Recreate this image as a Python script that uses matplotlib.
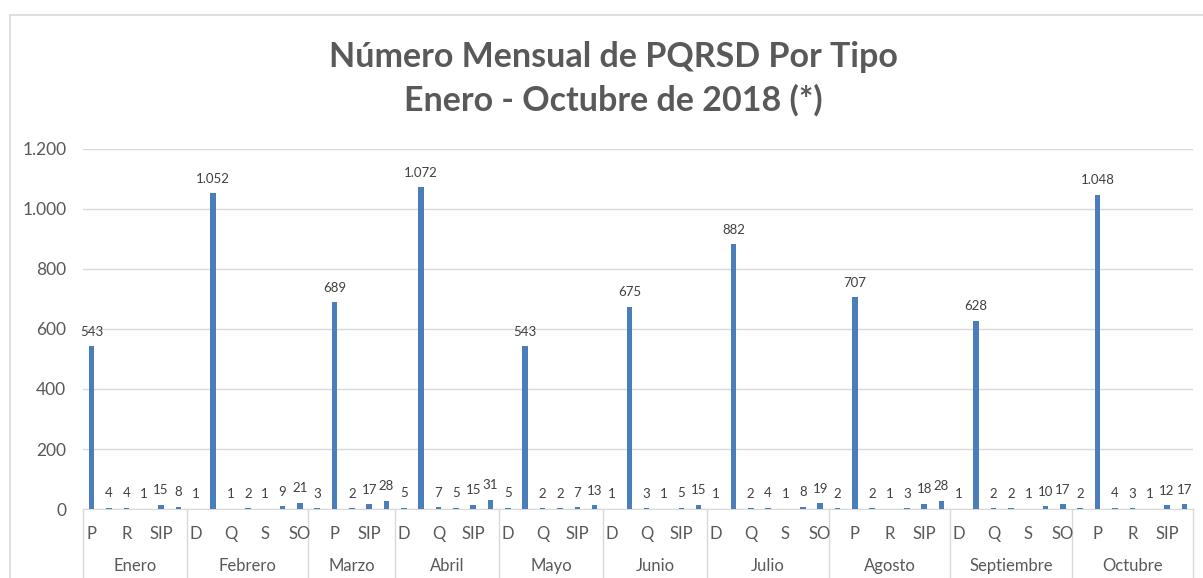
import numpy as np
import matplotlib.pyplot as plt
from matplotlib.lines import Line2D
from matplotlib.ticker import FuncFormatter

plt.rcParams['font.family'] = ['Lato', 'DejaVu Sans']

# data
meses = ['Enero', 'Febrero', 'Marzo', 'Abril', 'Mayo', 'Junio',
         'Julio', 'Agosto', 'Septiembre', 'Octubre']
tipos = [
    ['P', 'Q', 'R', 'S', 'SIP', 'SO'],
    ['D', 'P', 'Q', 'R', 'S', 'SIP', 'SO'],
    ['D', 'P', 'Q', 'SIP', 'SO'],
    ['D', 'P', 'Q', 'R', 'SIP', 'SO'],
    ['D', 'P', 'Q', 'R', 'SIP', 'SO'],
    ['D', 'P', 'Q', 'R', 'SIP', 'SO'],
    ['D', 'P', 'Q', 'R', 'S', 'SIP', 'SO'],
    ['D', 'P', 'Q', 'R', 'S', 'SIP', 'SO'],
    ['D', 'P', 'Q', 'R', 'S', 'SIP', 'SO'],
    ['D', 'P', 'Q', 'R', 'S', 'SIP', 'SO'],
]
valores = [
    [543, 4, 4, 1, 15, 8],
    [1, 1052, 1, 2, 1, 9, 21],
    [3, 689, 2, 17, 28],
    [5, 1072, 7, 5, 15, 31],
    [5, 543, 2, 2, 7, 13],
    [1, 675, 3, 1, 5, 15],
    [1, 882, 2, 4, 1, 8, 19],
    [2, 707, 2, 1, 3, 18, 28],
    [1, 628, 2, 2, 1, 10, 17],
    [2, 1048, 4, 3, 1, 12, 17],
]

BAR_COLOR = '#4A7EBB'
GRID = '#D9D9D9'
TXT = '#595959'


def miles(v, pos=None):
    return f'{int(v):,}'.replace(',', '.')


etiquetas = [t for grupo in tipos for t in grupo]
ys = [v for grupo in valores for v in grupo]
xs = np.arange(len(ys))

fig = plt.figure(figsize=(12.03, 5.78), dpi=100)
ax = fig.add_axes([83 / 1203, 1 - 509 / 578, 1110 / 1203, 360 / 578])

ax.bar(xs, ys, width=0.32, color=BAR_COLOR, zorder=3)
for x, y in zip(xs, ys):
    ax.annotate(miles(y), (x, y), xytext=(0, 6), textcoords='offset points',
                ha='center', va='bottom', fontsize=9.5, color='#404040')

ax.set_xlim(-0.5, len(ys) - 0.5)
ax.set_ylim(0, 1200)
ax.set_yticks(np.arange(0, 1201, 200))
ax.yaxis.set_major_formatter(FuncFormatter(miles))
ax.grid(axis='y', color=GRID, linewidth=1, zorder=0)
ax.tick_params(axis='y', length=0, pad=12, labelsize=12.5, labelcolor=TXT)
for s in ['top', 'right', 'left']:
    ax.spines[s].set_visible(False)
ax.spines['bottom'].set_color(GRID)

# category labels: Excel shows every other one
ax.set_xticks([])
trans = ax.get_xaxis_transform()
for x, lab in zip(xs, etiquetas):
    if x % 2 == 0:
        ax.text(x, -25 / 360, lab, transform=trans, ha='center', va='center',
                fontsize=12, color=TXT)

# month labels and separators
inicio = 0
bordes = [-0.5]
for mes, grupo in zip(meses, tipos):
    fin = inicio + len(grupo)
    ax.text((inicio + fin - 1) / 2, -57 / 360, mes, transform=trans,
            ha='center', va='center', fontsize=12, color=TXT)
    bordes.append(fin - 0.5)
    inicio = fin
for b in bordes:
    ax.plot([b, b], [0, -70 / 360], transform=trans, color=GRID,
            linewidth=1, clip_on=False)

fig.text(613 / 1203, 1 - 57 / 578, 'Número Mensual de PQRSD Por Tipo',
         ha='center', va='center', fontsize=24.5, fontweight='bold', color=TXT)
fig.text(613 / 1203, 1 - 100 / 578, 'Enero - Octubre de 2018 (*)',
         ha='center', va='center', fontsize=24.5, fontweight='bold', color=TXT)

# chart area border (cropped at right and bottom)
fig.add_artist(Line2D([10 / 1203, 1], [1 - 15 / 578, 1 - 15 / 578],
                      transform=fig.transFigure, color=GRID, linewidth=1.2))
fig.add_artist(Line2D([10 / 1203, 10 / 1203], [0, 1 - 15 / 578],
                      transform=fig.transFigure, color=GRID, linewidth=1.2))

fig.savefig('out.png', dpi=100)
